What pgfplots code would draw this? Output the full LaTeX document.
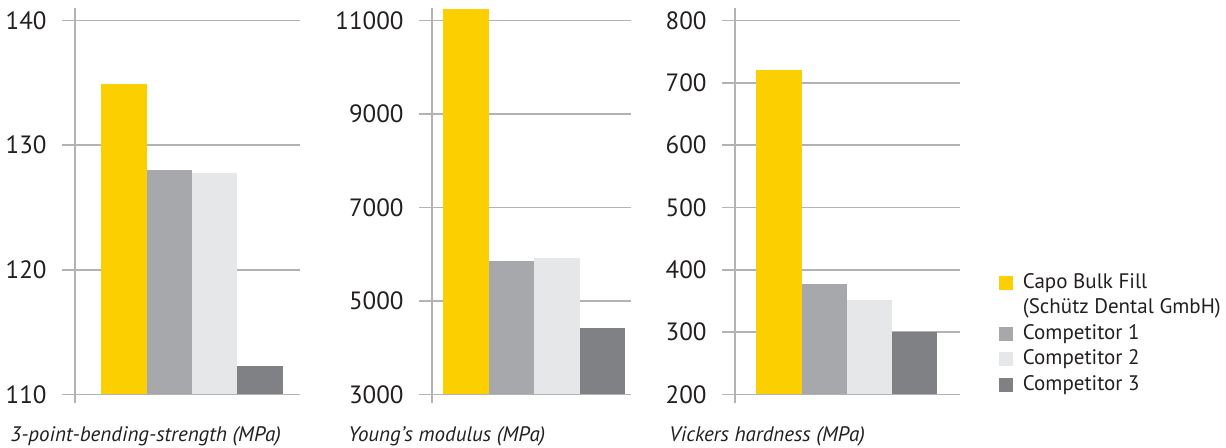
\documentclass[border=0pt]{standalone}
\usepackage{fontspec}
\setmainfont{PT Sans}
\usepackage{pgfplots}
\pgfplotsset{compat=1.18}

\definecolor{capo}{HTML}{FCD000}
\definecolor{compA}{HTML}{A7A8AB}
\definecolor{compB}{HTML}{E6E7E8}
\definecolor{compC}{HTML}{808184}
\definecolor{gridc}{HTML}{B3B3B6}
\definecolor{txt}{HTML}{231F20}

\pgfplotsset{
  panel/.style={
    scale only axis, height=187pt,
    axis line style={draw=none},
    ymajorgrids, grid style={gridc, line width=0.7pt},
    xtick=\empty, ytick pos=left,
    tick align=outside, major tick length=6.5pt,
    ytick style={gridc, line width=0.7pt},
    yticklabel style={font=\fontsize{12.5}{14}\selectfont, text=txt,
      inner sep=0pt, anchor=east, xshift=-7.5pt},
    scaled y ticks=false,
    /pgf/number format/assume math mode=true,
    /pgf/number format/1000 sep={},
    clip=false,
    xlabel style={font=\fontsize{10.5}{12}\selectfont\itshape, text=txt,
      anchor=base west, inner sep=0pt},
  },
  bar/.style={ybar, bar width=1, bar shift=0pt, draw=none, fill=#1},
}

\begin{document}
\begin{tikzpicture}
\useasboundingbox (0,0) rectangle (613pt,224pt);

% 3-point bending strength
\begin{axis}[panel, at={(37.5pt,26.75pt)}, anchor=south west, width=112.5pt,
  xmin=-1.08, xmax=3.885, ymin=110, ymax=140, ytick={110,120,130,140},
  xlabel={3-point-bending-strength (MPa)},
  xlabel style={at={(axis description cs:-0.289,-0.126)}}]
\addplot[bar=capo]  coordinates {(0,134.9)};
\addplot[bar=compA] coordinates {(1,128.0)};
\addplot[bar=compB] coordinates {(2,127.8)};
\addplot[bar=compC] coordinates {(3,112.3)};
\draw[gridc, line width=0.7pt] (rel axis cs:0,-0.023) -- (rel axis cs:0,1.033);
\end{axis}

% Young's modulus
\begin{axis}[panel, at={(216pt,26.75pt)}, anchor=south west, width=99.5pt,
  xmin=-0.747, xmax=3.626, ymin=3000, ymax=11000, ytick={3000,5000,7000,9000,11000},
  xlabel={Young’s modulus (MPa)},
  xlabel style={at={(axis description cs:-0.422,-0.126)}}]
\addplot[bar=capo]  coordinates {(0,11240)};
\addplot[bar=compA] coordinates {(1,5866)};
\addplot[bar=compB] coordinates {(2,5910)};
\addplot[bar=compC] coordinates {(3,4433)};
\draw[gridc, line width=0.7pt] (rel axis cs:0,-0.023) -- (rel axis cs:0,1.033);
\end{axis}

% Vickers hardness
\begin{axis}[panel, at={(367.5pt,26.75pt)}, anchor=south west, width=112.5pt,
  xmin=-0.971, xmax=4.0, ymin=200, ymax=800, ytick={200,300,...,800},
  xlabel={Vickers hardness (MPa)},
  xlabel style={at={(axis description cs:-0.293,-0.126)}},
  legend cell align=left,
  legend image code/.code={\fill[#1] (0pt,-3.4pt) rectangle (6.8pt,3.4pt);},
  legend style={at={(axis description cs:1.173,0.328)}, anchor=north west,
    draw=none, fill=none, inner sep=0pt, row sep=2.25pt,
    font=\fontsize{10.5}{12}\selectfont, text=txt,
    nodes={inner sep=0pt, text height=8pt, text depth=2.5pt},
    /tikz/every odd column/.append style={column sep=5pt}}]
\addplot[bar=capo]  coordinates {(0,721)};
\addlegendentry{Capo Bulk Fill}
\addlegendimage{empty legend}
\addlegendentry{(Schütz Dental GmbH)}
\addplot[bar=compA] coordinates {(1,378)};
\addlegendentry{Competitor 1}
\addplot[bar=compB] coordinates {(2,352)};
\addlegendentry{Competitor 2}
\addplot[bar=compC] coordinates {(3,300)};
\addlegendentry{Competitor 3}
\draw[gridc, line width=0.7pt] (rel axis cs:0,-0.023) -- (rel axis cs:0,1.033);
\end{axis}
\end{tikzpicture}
\end{document}
